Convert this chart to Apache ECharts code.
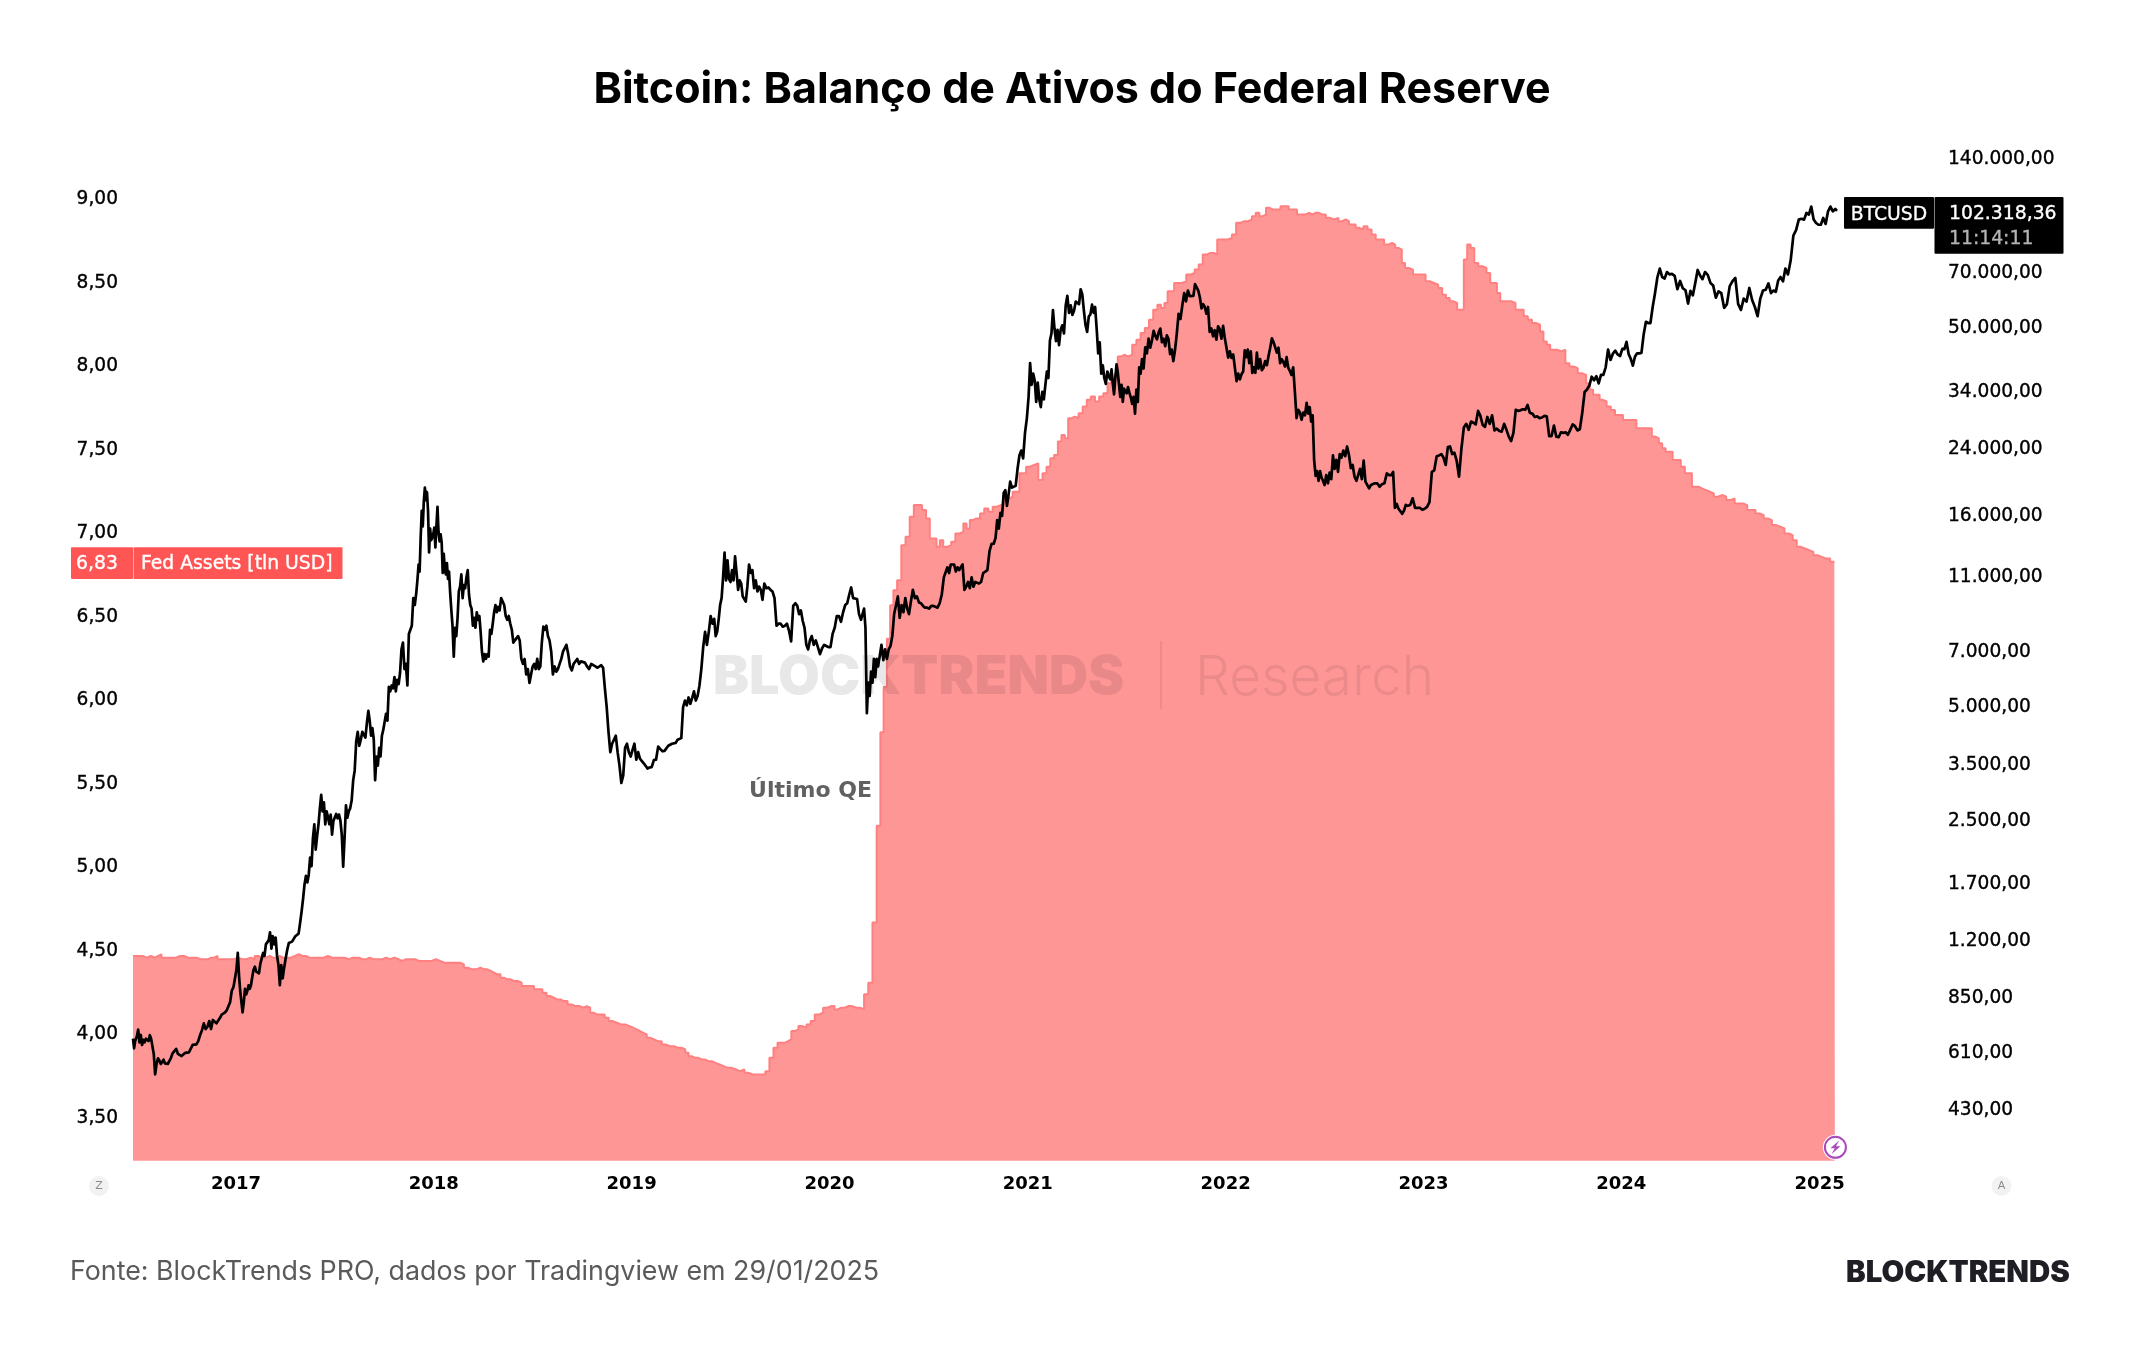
<!DOCTYPE html>
<html lang="pt-BR">
<head>
<meta charset="utf-8">
<title>Bitcoin: Balanço de Ativos do Federal Reserve</title>
<style>html,body{margin:0;padding:0;background:#fff}#chart{width:2144px;height:1350px}</style>
<script src="https://cdn.jsdelivr.net/npm/echarts@6/dist/echarts.min.js"></script>
</head>
<body>
<div id="chart"></div>
<script>
// BTCUSD closes, one row per calendar month; each row's samples are spread evenly over its month.
const btcHead = [['2016-06-25', 665], ['2016-06-27', 627], ['2016-06-29', 655]];
const btc2016 = [ // July to December
  [675, 703, 650, 680, 640, 660, 650, 665, 660, 655, 679, 665, 657],
  [606, 535, 570, 590, 582, 570, 575, 585, 572, 578, 570, 575],
  [590, 608, 610, 625, 606, 608, 598, 605, 610],
  [615, 612, 618, 640, 638, 642, 655, 680, 700],
  [730, 705, 715, 740, 705, 745, 750, 730, 735],
  [755, 770, 765, 780, 790, 790, 830, 890, 910, 965]
];
const btc2017 = [
  [1020, 1121, 980, 890, 900, 780, 830, 900, 870, 890, 920, 900, 920, 965],
  [1010, 1030, 1000, 1010, 990, 1050, 1060, 1120, 1100, 1180, 1190],
  [1209, 1270, 1150, 1240, 1180, 1230, 1100, 1040, 921, 1040, 960, 1020],
  [1080, 1140, 1190, 1180, 1200, 1210, 1240, 1230, 1260, 1350],
  [1450, 1560, 1700, 1790, 1720, 1800, 2000, 1900, 2250, 2450, 2100, 2280],
  [2450, 2700, 2930, 2650, 2800, 2450, 2650, 2560, 2450, 2600, 2300, 2500],
  [2500, 2610, 2540, 2600, 2510, 2300, 1893, 2250, 2750, 2550, 2650, 2700],
  [2830, 3200, 3400, 4060, 4300, 3950, 4100, 4300, 4350, 4150, 4550],
  [4886, 4600, 4200, 4400, 4100, 3206, 3700, 3500, 3900, 3700, 4200, 4350],
  [4400, 4800, 4600, 5650, 5500, 5700, 5600, 6000, 5500, 5900, 5750, 6150],
  [7100, 7400, 6300, 6500, 5700, 7800, 8000, 8200, 9700, 9300, 10000],
  [10900, 11900, 11400, 14000, 16500, 15000, 17500, 19000, 17600, 18500, 16500, 12800, 14800, 13800, 14000, 14300]
];
const btc2018 = [
  [14900, 13200, 15000, 16900, 14500, 13700, 14300, 13600, 11300, 12700, 11500, 11200, 12000, 10900, 11400, 10100],
  [9100, 8200, 6790, 8100, 7700, 8600, 10100, 10400, 11200, 9700, 10500, 10300],
  [11000, 11500, 9900, 9300, 9100, 8200, 8600, 8100, 8900, 8500, 8700, 7900, 7000],
  [6600, 6900, 6700, 6900, 6800, 8000, 7800, 8300, 8900, 9300, 8900, 9200],
  [9000, 9700, 9800, 9300, 8700, 8500, 8700, 8300, 8000, 7400, 7500],
  [7500, 7700, 7500, 6700, 6500, 6700, 6100, 6300, 5790, 6100],
  [6400, 6500, 6300, 6700, 6300, 6400, 7400, 8160, 8000, 8200, 7700],
  [7500, 7000, 6100, 6400, 6200, 6300, 6500, 6700, 7000, 7000],
  [7300, 6900, 6400, 6250, 6500, 6500, 6700, 6500, 6600],
  [6600, 6550, 6400, 6300, 6500, 6450, 6400, 6350],
  [6350, 6450, 6350, 5600, 5000, 4300, 3800, 4000, 4000],
  [4200, 3800, 3500, 3150, 3300, 3900, 4000, 3800, 3700]
];
const btc2019 = [
  [3850, 4000, 3630, 3800, 3650, 3600, 3550, 3570, 3440],
  [3460, 3470, 3620, 3630, 3930, 3870, 3820],
  [3830, 3860, 3950, 3920, 4000, 4030, 4020, 4100, 4150],
  [4140, 5000, 5200, 5050, 5300, 5100, 5280, 5500, 5200],
  [5350, 5700, 6300, 7200, 7900, 7300, 7900, 8700, 8300],
  [8550, 7700, 7900, 8500, 9300, 9700, 11000, 12800, 10800, 12200, 10900],
  [10700, 11500, 10800, 12500, 11300, 10200, 10800, 10600, 9800, 9900, 9500],
  [10400, 11900, 11300, 11500, 10300, 10800, 10100, 10400, 10200, 9600],
  [10600, 10300, 10350, 10200, 10100, 9700, 8200, 8300],
  [8300, 8150, 8200, 8300, 7950, 7450, 9250, 9400],
  [9250, 8800, 9000, 8450, 8100, 7300, 7100, 7500, 7700],
  [7300, 7500, 7200, 6900, 7150, 7300, 7250, 7200]
];
const btc2020 = [
  [7200, 7800, 8100, 8700, 8700, 8400, 8900, 9300],
  [9400, 9900, 10350, 9700, 9700, 9650, 8800, 8500],
  [8600, 9100, 8100, 4814, 5800, 5350, 6200, 5800, 6700, 6000, 6700, 6400],
  [6800, 7300, 6650, 7100, 6700, 7100, 7250, 7700, 8800],
  [8900, 9800, 8600, 9300, 8900, 9700, 9100, 8800, 9500],
  [10200, 9700, 9800, 9450, 9400, 9250, 9150, 9150],
  [9100, 9250, 9250, 9200, 9150, 9400, 9900, 11000],
  [11100, 11700, 11300, 11900, 11800, 11900, 11400, 11700, 11500, 11700],
  [11900, 10200, 10400, 10700, 10300, 11000, 10400, 10700, 10800],
  [10600, 10700, 11300, 11400, 11500, 12900, 13500, 13500],
  [14000, 15600, 14800, 16300, 16000, 18400, 18700, 17000, 18200, 19700],
  [19000, 18800, 19200, 21300, 23100, 23800, 22700, 26500, 29000]
];
const btc2021 = [
  [33000, 40500, 35500, 38000, 36500, 32000, 36000, 32500, 31000, 34000, 32500],
  [35500, 38500, 37000, 46500, 48500, 55900, 50000, 46300, 49600, 45200],
  [49600, 51000, 48500, 57400, 61000, 55000, 57600, 54300, 55800, 58900],
  [59000, 58000, 63500, 61500, 55700, 51000, 49000, 53800, 54500, 57800],
  [55000, 57000, 50000, 43000, 46000, 38000, 40000, 37000, 35700, 38500, 37300],
  [36700, 39000, 35800, 33500, 37000, 40200, 38300, 35500, 33000, 35500, 32000, 34700, 35000],
  [33700, 35000, 33800, 32900, 31600, 33000, 29800, 34500, 32000, 39500, 38000, 41500],
  [39200, 44600, 43000, 47000, 44500, 46500, 49300, 47800, 46800, 48900],
  [50000, 46000, 47000, 44900, 48000, 47000, 42800, 44000, 41000, 43800],
  [48200, 54700, 53000, 57500, 62000, 59000, 63000, 60900, 61400],
  [61000, 65500, 64900, 63000, 60400, 56500, 58000, 57000, 54700, 57000],
  [49000, 50000, 47700, 49500, 46700, 50700, 49800, 47000, 50800, 47200]
];
const btc2022 = [
  [47300, 41900, 43500, 41800, 42700, 43000, 36300, 38000, 36700, 37900],
  [38500, 43800, 42000, 44000, 40500, 43500, 38200, 39500, 38200, 43200],
  [39200, 41500, 38800, 39400, 41000, 40000, 42300, 44500, 47100, 46000],
  [45800, 43200, 44500, 40500, 41500, 40800, 39700, 42000, 39400, 38600],
  [37700, 39500, 34000, 29000, 30500, 30000, 28700, 30000, 29500, 31800],
  [29800, 31000, 28400, 29500, 22500, 20400, 21000, 19800, 21000, 20200, 19800],
  [19300, 20500, 19500, 20800, 20000, 23100, 21300, 22500, 20900, 23300],
  [22800, 23800, 23000, 24400, 23200, 21400, 21800, 20300, 19800],
  [19900, 21300, 20000, 22400, 19700, 19800, 18900, 19300, 19400],
  [19500, 19500, 19100, 19400, 19500, 20700, 20500],
  [20500, 20900, 16800, 17200, 16700, 16600, 16200, 16500, 17100],
  [17000, 17100, 17800, 16800, 16800, 16800, 16600]
];
const btc2023 = [
  [16700, 16900, 17400, 20900, 21100, 23000, 23100],
  [23300, 22800, 21800, 24300, 24400, 23300, 23500],
  [22400, 20300, 24100, 27400, 28000, 27000, 28400],
  [28200, 27900, 30300, 29400, 27800, 27500, 29200],
  [28000, 29500, 26900, 27200, 26800, 26700, 28000],
  [27000, 25900, 25200, 26500, 30500, 30300, 30400],
  [30600, 30500, 31400, 29900, 29800, 29200, 29300],
  [29000, 29100, 29400, 29300, 26000, 26000, 27700],
  [25900, 25800, 26600, 26500, 26600, 26200, 27000],
  [27900, 27600, 26900, 27100, 29900, 34000, 34500],
  [35400, 37300, 36500, 37400, 35800, 37700, 37700],
  [39500, 44000, 41300, 42900, 43700, 42700, 42300]
];
const btc2024 = [
  [44200, 44100, 46100, 42800, 41600, 39900, 42100, 43000],
  [43000, 43100, 48300, 52100, 51700, 51700, 57000],
  [62000, 68300, 72000, 68400, 67800, 70500, 69500],
  [69700, 68900, 63500, 66800, 63900, 63100],
  [58200, 62900, 61200, 66000, 71400, 69000, 67500],
  [70500, 69300, 66000, 65000, 60300, 62700],
  [62000, 56700, 58000, 64700, 66700, 68000],
  [58100, 56000, 60000, 58900, 64000, 59500],
  [57000, 53900, 60000, 63000, 63300, 65800],
  [62000, 63000, 62500, 67000, 68400, 66600, 72000],
  [69500, 75600, 88000, 91000, 97000, 97500],
  [97000, 101000, 100000, 105000, 97000, 95000, 94000]
];
const btc2025 = [[94000, 98000, 94500, 102000, 105000, 102000, 103500]];
const btcTail = [['2025-02-02', 102318.36]];

// Fed total assets in trillions of USD, weekly steps, same month rows.
const fedHead = [['2016-06-25', 4.47]];
const fed2016 = [ // July to December
  [4.47, 4.46, 4.47, 4.46], [4.47, 4.48, 4.46, 4.46, 4.46], [4.46, 4.47, 4.47, 4.46],
  [4.46, 4.46, 4.45, 4.45], [4.45, 4.46, 4.46, 4.47, 4.45], [4.45, 4.45, 4.45, 4.46]
];
const fed2017 = [
  [4.45, 4.45, 4.46, 4.45], [4.47, 4.46, 4.46, 4.47], [4.46, 4.46, 4.47, 4.46, 4.46],
  [4.46, 4.47, 4.48, 4.47], [4.47, 4.46, 4.46, 4.46, 4.46], [4.46, 4.47, 4.46, 4.46],
  [4.46, 4.46, 4.45, 4.46], [4.46, 4.46, 4.45, 4.45, 4.46], [4.45, 4.45, 4.45, 4.46],
  [4.45, 4.46, 4.45, 4.44], [4.45, 4.45, 4.45, 4.45, 4.44], [4.44, 4.44, 4.44, 4.45]
];
const fed2018 = [
  [4.44, 4.43, 4.43, 4.43], [4.43, 4.43, 4.42, 4.40], [4.39, 4.39, 4.40, 4.39],
  [4.39, 4.38, 4.37, 4.36, 4.36], [4.34, 4.33, 4.33, 4.32, 4.32], [4.31, 4.29, 4.29, 4.29],
  [4.27, 4.27, 4.25, 4.23], [4.22, 4.21, 4.21, 4.20, 4.20], [4.18, 4.17, 4.17, 4.16],
  [4.17, 4.16, 4.13, 4.12, 4.12], [4.12, 4.10, 4.08, 4.07], [4.06, 4.06, 4.05, 4.04]
];
const fed2019 = [
  [4.03, 4.02, 4.01, 4.00, 3.98], [3.97, 3.96, 3.96, 3.94], [3.93, 3.93, 3.92, 3.92],
  [3.91, 3.89, 3.87, 3.86, 3.86], [3.85, 3.85, 3.84, 3.84, 3.83], [3.82, 3.81, 3.80, 3.80],
  [3.79, 3.78, 3.79, 3.77], [3.76, 3.76, 3.76, 3.76], [3.78, 3.86, 3.92, 3.95],
  [3.95, 3.96, 3.97, 4.02, 4.03], [4.05, 4.04, 4.06, 4.08], [4.12, 4.13, 4.16, 4.17]
];
const fed2020 = [
  [4.17, 4.15, 4.16, 4.16, 4.17], [4.17, 4.16, 4.16, 4.15], [4.24, 4.31, 4.67, 5.25],
  [5.81, 6.08, 6.37, 6.57, 6.66], [6.72, 6.93, 6.98, 7.10], [7.17, 7.17, 7.14, 7.09],
  [6.97, 6.97, 6.92, 6.96, 6.92], [6.93, 6.95, 7.00, 7.01], [7.06, 7.03, 7.08, 7.09, 7.09],
  [7.12, 7.15, 7.13, 7.16], [7.17, 7.18, 7.21, 7.22], [7.25, 7.25, 7.36, 7.36, 7.40]
];
const fed2021 = [
  [7.41, 7.42, 7.32, 7.36], [7.40, 7.45, 7.47, 7.55], [7.59, 7.57, 7.69, 7.70, 7.69],
  [7.72, 7.76, 7.80, 7.82], [7.79, 7.82, 7.84, 7.90], [7.93, 7.95, 8.06, 8.07, 8.06],
  [8.07, 8.13, 8.16, 8.20], [8.23, 8.28, 8.34, 8.37], [8.35, 8.38, 8.45, 8.45, 8.50],
  [8.50, 8.51, 8.55, 8.56], [8.58, 8.61, 8.67, 8.68], [8.68, 8.67, 8.76, 8.76, 8.76]
];
const fed2022 = [
  [8.77, 8.79, 8.86, 8.87], [8.87, 8.88, 8.90, 8.92], [8.90, 8.91, 8.95, 8.94, 8.94],
  [8.94, 8.96, 8.96, 8.94], [8.94, 8.91, 8.91, 8.92], [8.91, 8.92, 8.92, 8.91, 8.91],
  [8.89, 8.88, 8.89, 8.87], [8.88, 8.87, 8.85, 8.85, 8.83], [8.82, 8.84, 8.82, 8.79],
  [8.76, 8.76, 8.73, 8.74], [8.73, 8.71, 8.70, 8.62, 8.59], [8.58, 8.55, 8.55, 8.55]
];
const fed2023 = [
  [8.51, 8.50, 8.49, 8.47], [8.43, 8.41, 8.39, 8.38], [8.34, 8.34, 8.64, 8.73, 8.71],
  [8.62, 8.60, 8.59, 8.56], [8.50, 8.50, 8.44, 8.39, 8.39], [8.39, 8.38, 8.34, 8.34],
  [8.30, 8.28, 8.26, 8.25], [8.21, 8.15, 8.13, 8.10, 8.10], [8.09, 8.10, 8.02, 8.00],
  [7.99, 7.96, 7.95, 7.90], [7.86, 7.83, 7.83, 7.80, 7.79], [7.76, 7.74, 7.71, 7.71]
];
const fed2024 = [
  [7.68, 7.68, 7.68, 7.68, 7.63], [7.63, 7.63, 7.63, 7.58], [7.57, 7.54, 7.51, 7.49, 7.49],
  [7.44, 7.44, 7.40, 7.36], [7.36, 7.28, 7.28, 7.27, 7.26], [7.25, 7.24, 7.22, 7.23],
  [7.22, 7.20, 7.21, 7.18], [7.18, 7.17, 7.14, 7.14], [7.12, 7.11, 7.09, 7.08],
  [7.05, 7.04, 7.03, 7.00], [6.99, 6.96, 6.92, 6.91], [6.90, 6.89, 6.87, 6.86]
];
const fed2025 = [[6.85, 6.85, 6.83, 6.83]];
const fedTail = [['2025-01-29', 6.83]];

const yearTicks = [2017, 2018, 2019, 2020, 2021, 2022, 2023, 2024, 2025];
const fedTicks = [3.5, 4, 4.5, 5, 5.5, 6, 6.5, 7, 7.5, 8, 8.5, 9];
const btcTicks = [430, 610, 850, 1200, 1700, 2500, 3500, 5000, 7000, 11000, 16000, 24000, 34000, 50000, 70000, 140000];

// Spreads each month's samples evenly across that month.
function monthRows(rows, year, firstMonth) {
  const out = [];
  rows.forEach((values, m) => {
    const start = Date.UTC(year, firstMonth + m, 1);
    const end = Date.UTC(year, firstMonth + m + 1, 1);
    values.forEach((v, i) => out.push([start + (i + 0.5) / values.length * (end - start), v]));
  });
  return out;
}
function dated(pairs) {
  return pairs.map(([d, v]) => [Date.parse(d + 'T00:00:00Z'), v]);
}
const btcSeries = [].concat(dated(btcHead), monthRows(btc2016, 2016, 6), monthRows(btc2017, 2017, 0),
  monthRows(btc2018, 2018, 0), monthRows(btc2019, 2019, 0), monthRows(btc2020, 2020, 0),
  monthRows(btc2021, 2021, 0), monthRows(btc2022, 2022, 0), monthRows(btc2023, 2023, 0),
  monthRows(btc2024, 2024, 0), monthRows(btc2025, 2025, 0), dated(btcTail));
const fedSeries = [].concat(dated(fedHead), monthRows(fed2016, 2016, 6), monthRows(fed2017, 2017, 0),
  monthRows(fed2018, 2018, 0), monthRows(fed2019, 2019, 0), monthRows(fed2020, 2020, 0),
  monthRows(fed2021, 2021, 0), monthRows(fed2022, 2022, 0), monthRows(fed2023, 2023, 0),
  monthRows(fed2024, 2024, 0), monthRows(fed2025, 2025, 0), dated(fedTail));

// pt-BR number text: dot for thousands, comma for decimals.
function ptBR(v) {
  return v.toLocaleString('pt-BR', { minimumFractionDigits: 2, maximumFractionDigits: 2 });
}

const AXIS_FONT = '"DejaVu Sans", sans-serif';
const chart = echarts.init(document.getElementById('chart'), null, { renderer: 'canvas' });

chart.setOption({
  animation: false,
  backgroundColor: '#ffffff',
  title: {
    text: 'Bitcoin: Balanço de Ativos do Federal Reserve',
    left: 'center',
    top: 64,
    textStyle: { fontFamily: 'Inter', fontWeight: 700, fontSize: 43, color: '#000000' }
  },
  grid: { left: 133, right: 294, top: 130, bottom: 189.3, containLabel: false },
  xAxis: {
    type: 'value',
    min: Date.UTC(2016, 5, 25),
    max: Date.UTC(2025, 1, 26),
    axisLine: { show: false },
    axisTick: { show: false },
    splitLine: { show: false },
    axisLabel: {
      customValues: yearTicks.map(y => Date.UTC(y, 0, 1)),
      formatter: v => String(new Date(v).getUTCFullYear()),
      fontFamily: AXIS_FONT, fontWeight: 'bold', fontSize: 18, color: '#000000', margin: 15
    }
  },
  yAxis: [
    {
      type: 'value', position: 'left', min: 3.244, max: 9.416,
      axisLine: { show: false }, axisTick: { show: false }, splitLine: { show: false },
      axisLabel: {
        customValues: fedTicks, formatter: v => ptBR(v),
        fontFamily: AXIS_FONT, fontSize: 18.6, color: '#000000', margin: 15,
        padding: [6, 0, 0, 0], textBorderColor: '#000000', textBorderWidth: 0.35
      }
    },
    {
      type: 'log', position: 'right', logBase: 10, min: 316.5, max: 167300,
      axisLine: { show: false }, axisTick: { show: false }, splitLine: { show: false },
      axisLabel: {
        customValues: btcTicks, formatter: v => ptBR(Math.round(v)),
        fontFamily: AXIS_FONT, fontSize: 18.6, color: '#000000', margin: 98, align: 'left',
        padding: [8, 0, 0, 0], textBorderColor: '#000000', textBorderWidth: 0.35
      }
    }
  ],
  series: [
    {
      name: 'Fed Assets [tln USD]', type: 'line', yAxisIndex: 0, data: fedSeries,
      step: 'end', showSymbol: false, z: 1, silent: true,
      lineStyle: { color: '#ff8080', width: 2 },
      areaStyle: { color: '#ff9696', opacity: 1, origin: 'start' }
    },
    {
      name: 'BTCUSD', type: 'line', yAxisIndex: 1, data: btcSeries,
      showSymbol: false, z: 3, silent: true,
      lineStyle: { color: '#000000', width: 2.7, join: 'round' }
    }
  ]
});

// Tags that sit on the last value of each series, plus the page furniture.
const fedY = chart.convertToPixel({ yAxisIndex: 0 }, fedSeries[fedSeries.length - 1][1]);
const btcY = chart.convertToPixel({ yAxisIndex: 1 }, btcSeries[btcSeries.length - 1][1]);
const box = (x, y, w, h, fill, z) => ({ type: 'rect', shape: { x, y, width: w, height: h, r: 1 }, style: { fill }, z: z || 10 });
const txt = (x, y, text, fill, font, align, z, heavy) => ({
  type: 'text', x, y, z: z || 11,
  style: Object.assign({ text, fill, font, textAlign: align || 'left', textVerticalAlign: 'middle' },
    heavy ? { stroke: fill, lineWidth: heavy } : {})
});
const tagFont = '18.8px "DejaVu Sans"';
chart.setOption({
  graphic: { elements: [
    // Watermark between the area and the price line
    txt(713, 678, 'BLOCKTRENDS', 'rgba(0,0,0,0.09)', '900 54px Inter', 'left', 2),
    { type: 'rect', shape: { x: 1160, y: 641, width: 2, height: 68 }, style: { fill: 'rgba(0,0,0,0.07)' }, z: 2 },
    txt(1195, 678, 'Research', 'rgba(0,0,0,0.08)', '300 55px Inter', 'left', 2),
    // Annotation
    txt(872, 791, 'Último QE', '#616161', 'bold 22px "DejaVu Sans"', 'right', 4),
    // Fed tag
    box(71, fedY - 14.6, 62, 31.7, '#ff5555'),
    box(133.5, fedY - 14.6, 209, 31.7, '#ff5555'),
    txt(97, fedY + 2.2, ptBR(fedSeries[fedSeries.length - 1][1]), '#ffffff', tagFont, 'center', 11, 0.35),
    txt(141, fedY + 2.2, 'Fed Assets [tln USD]', '#ffffff', tagFont, 'left', 11, 0.35),
    // BTC tag
    box(1844, btcY - 13.8, 90, 31.7, '#000000'),
    box(1934.5, btcY - 13.8, 129, 56.7, '#000000'),
    txt(1889, btcY + 4, 'BTCUSD', '#ffffff', tagFont, 'center', 11, 0.35),
    txt(1949, btcY + 3, ptBR(btcSeries[btcSeries.length - 1][1]), '#ffffff', tagFont, 'left', 11, 0.35),
    txt(1949, btcY + 28, '11:14:11', '#b4b4b4', tagFont, 'left', 11, 0.35),
    // Scale buttons
    { type: 'circle', shape: { cx: 99, cy: 1186, r: 10 }, style: { fill: '#f2f2f2' }, z: 10 },
    txt(99, 1186, 'Z', '#8a8a8a', '11px "DejaVu Sans"', 'center'),
    { type: 'circle', shape: { cx: 2001.5, cy: 1186, r: 10 }, style: { fill: '#f2f2f2' }, z: 10 },
    txt(2001.5, 1186, 'A', '#8a8a8a', '11px "DejaVu Sans"', 'center'),
    // Lightning marker at the end of the time scale
    { type: 'circle', shape: { cx: 1835.4, cy: 1147.3, r: 12.5 }, style: { fill: '#ffffff' }, z: 10 },
    { type: 'circle', shape: { cx: 1835.4, cy: 1147.3, r: 10.5 }, style: { fill: '#ffffff', stroke: '#ab47bc', lineWidth: 2 }, z: 10 },
    { type: 'polygon', x: 1835.4, y: 1147.3, shape: { points: [[4, -7], [-5, 1], [-0.5, 1], [-4, 7], [5, -1], [0.5, -1]] }, style: { fill: '#ab47bc' }, z: 11 },
    // Footer
    txt(70, 1272, 'Fonte: BlockTrends PRO, dados por Tradingview em 29/01/2025', '#5a5a5a', '26.8px Inter'),
    txt(1846, 1273, 'BLOCKTRENDS', '#1e1e24', '900 29.4px Inter')
  ] }
});
</script>
</body>
</html>
